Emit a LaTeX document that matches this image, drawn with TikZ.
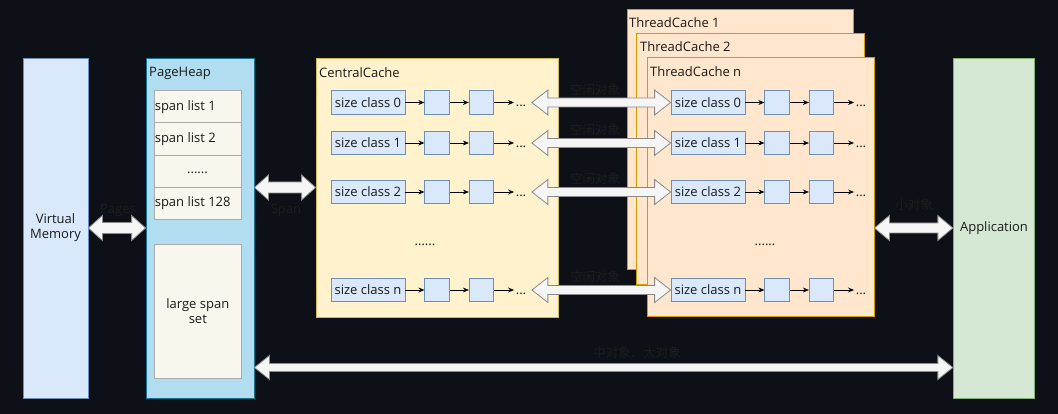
\documentclass[tikz,border=0pt]{standalone}
\usepackage{fontspec}
\setmainfont{Open Sans}
\newfontfamily\cjk{Noto Sans CJK SC}
\usetikzlibrary{calc,arrows.meta}
\definecolor{bgc}{HTML}{0D1017}
\definecolor{blueF}{HTML}{DAE8FC}\definecolor{blueD}{HTML}{6C8EBF}
\definecolor{phF}{HTML}{B1DDF0}\definecolor{phD}{HTML}{10739E}
\definecolor{cellF}{HTML}{F9F7ED}\definecolor{cellD}{HTML}{ABABAB}
\definecolor{ccF}{HTML}{FFF2CC}\definecolor{ccD}{HTML}{D6B656}
\definecolor{tcF}{HTML}{FFE6CC}\definecolor{tcD}{HTML}{D79B00}
\definecolor{apF}{HTML}{D5E8D4}\definecolor{apD}{HTML}{82B366}
\definecolor{txt}{HTML}{1A1A1A}
\definecolor{lbl}{HTML}{1E1E1E}
\definecolor{arF}{HTML}{F5F5F5}\definecolor{arD}{HTML}{8A8A8A}
\newcommand\blockarrow[6]{%
  \draw[#6] let \p1=#1, \p2=#2 in
  (\x1,\y2) -- (\x1+#3,\y2+#4) -- (\x1+#3,\y2+#5) -- (\x2-#3,\y2+#5) -- (\x2-#3,\y2+#4)
  -- (\x2,\y2) -- (\x2-#3,\y2-#4) -- (\x2-#3,\y2-#5) -- (\x1+#3,\y2-#5) -- (\x1+#3,\y2-#4) -- cycle;}
\begin{document}
\begin{tikzpicture}[x=1pt,y=-1pt,
  every node/.style={font=\fontsize{13}{15}\selectfont, text=txt},
  region/.style={draw, line width=0.8pt, rectangle, inner sep=0pt},
  vmbox/.style={region, fill=blueF, draw=blueD},
  phbox/.style={region, fill=phF, draw=phD},
  cellbox/.style={region, fill=cellF, draw=cellD},
  ccbox/.style={region, fill=ccF, draw=ccD},
  tcbox/.style={region, fill=tcF, draw=tcD},
  apbox/.style={region, fill=apF, draw=apD},
  scbox/.style={region, fill=blueF, draw=blueD, minimum width=74pt, minimum height=23.5pt},
  smbox/.style={region, fill=blueF, draw=blueD, minimum width=24.5pt, minimum height=23.5pt},
  ttl/.style={anchor=west, inner sep=1pt},
  dots/.style={anchor=base, inner sep=0.5pt},
  lnk/.style={-{Stealth[length=6pt,width=5pt]}, line width=0.7pt, black},
  blk/.style={fill=arF, draw=arD, line width=0.8pt},
  lab/.style={text=lbl, inner sep=1pt},
  labc/.style={text=lbl, inner sep=1pt, font=\cjk\fontsize{12.5}{14}\selectfont}]
\fill[bgc] (0,0) rectangle (1058,414);
\useasboundingbox (0,0) rectangle (1058,414);

% Virtual memory
\node[vmbox, minimum width=65pt, minimum height=340pt, align=center] (vm) at (55.5,228) {Virtual\\Memory};

% PageHeap
\node[phbox, minimum width=108pt, minimum height=340pt] (ph) at (200,228) {};
\node[ttl] (phT) at (148,73) {PageHeap};
\foreach \n/\cy/\t in {1/106.7/span list 1, 2/139/span list 2, 4/203.6/span list 128}{
  \node[cellbox, minimum width=87pt, minimum height=32.3pt] (sl\n) at (197.5,\cy) {};
  \node[anchor=west, inner sep=1pt] (slt\n) at (sl\n.west) {\t};
}
\node[cellbox, minimum width=87pt, minimum height=32.3pt] (sl3) at (197.5,171.3) {};
\node[dots] (slt3) at (197.5,174) {......};
\node[cellbox, minimum width=87.5pt, minimum height=134pt, align=center] (lss) at (197.8,311) {large span\\set};

% CentralCache
\node[ccbox, minimum width=242pt, minimum height=259pt] (cc) at (437,187.5) {};
\node[ttl] (ccT) at (318,73) {CentralCache};

% ThreadCaches
\node[tcbox, minimum width=226pt, minimum height=260pt] (tc1) at (740,139) {};
\node[ttl] (tc1T) at (628,23) {ThreadCache 1};
\node[tcbox, minimum width=228pt, minimum height=251pt] (tc2) at (750,158.7) {};
\node[ttl] (tc2T) at (639,47) {ThreadCache 2};
\node[tcbox, minimum width=227pt, minimum height=259pt] (tcn) at (760.5,187.2) {};
\node[ttl] (tcnT) at (649,72) {ThreadCache n};

% Application
\node[apbox, minimum width=81.5pt, minimum height=340pt] (app) at (994,228) {Application};

% rows
\foreach \i/\cy in {0/102.5,1/143,2/192,n/290}{
  \node[scbox] (cs\i) at (368,\cy) {size class \i};
  \node[smbox] (ca\i) at (437,\cy) {};
  \node[smbox] (cb\i) at (481.5,\cy) {};
  \node[dots] (cd\i) at (521,\cy+4.5) {...};
  \coordinate (ce\i) at (514,\cy);
  \draw[lnk] (cs\i) -- (ca\i);
  \draw[lnk] (ca\i) -- (cb\i);
  \draw[lnk] (cb\i) -- (ce\i);
  \node[scbox] (ts\i) at (708,\cy) {size class \i};
  \node[smbox] (ta\i) at (777,\cy) {};
  \node[smbox] (tb\i) at (821.5,\cy) {};
  \node[dots] (td\i) at (861,\cy+4.5) {...};
  \coordinate (te\i) at (854,\cy);
  \draw[lnk] (ts\i) -- (ta\i);
  \draw[lnk] (ta\i) -- (tb\i);
  \draw[lnk] (tb\i) -- (te\i);
  \blockarrow{($(cd\i.east)+(5,0)$)}{(ts\i.west)}{16pt}{12.5pt}{4.5pt}{blk}
  \node[labc] (fl\i) at (595,\cy-13) {空闲对象};
}
\node[dots] (cmid) at (425,246) {......};
\node[dots] (tmid) at (765,246) {......};

% big arrows
\blockarrow{(vm.east)}{(ph.west)}{14pt}{12.5pt}{5.5pt}{blk}
\node[lab] (pgL) at (118,210) {Pages};
\blockarrow{(ph.east)}{(cc.west)}{14pt}{12.5pt}{5.5pt}{blk}
\node[lab] (spL) at (286,210) {Span};
\blockarrow{(tcn.east)}{(app.west)}{15pt}{12.5pt}{5pt}{blk}
\node[labc] (soL) at (914,205) {小对象};
\coordinate (bL) at (ph.east |- 0,367.5);
\coordinate (bR) at (app.west |- 0,367.5);
\blockarrow{(bL)}{(bR)}{15pt}{12pt}{4pt}{blk}
\node[labc] (mlL) at (637,353) {中对象、大对象};
\end{tikzpicture}
\end{document}
